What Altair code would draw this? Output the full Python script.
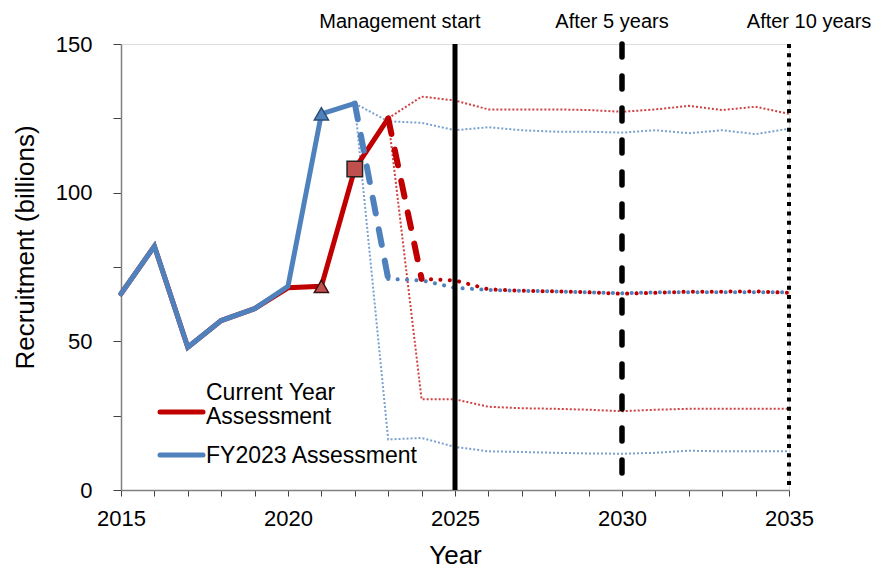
import altair as alt
import pandas as pd

# ---------------- data ----------------
blue_solid_years = [2015, 2016, 2017, 2018, 2019, 2020, 2021, 2022]
blue_solid_vals = [66, 82, 48, 57, 61, 68.5, 126.5, 130]

red_solid_years = [2015, 2016, 2017, 2018, 2019, 2020, 2021, 2022, 2023]
red_solid_vals = [66, 82, 48, 57, 61, 68, 68.5, 108, 125]

blue_dash_years = [2022, 2023]
blue_dash_vals = [130, 71]
red_dash_years = [2023, 2024]
red_dash_vals = [125, 71]

blue_med_years = list(range(2023, 2036))
blue_med_vals = [71, 70.5, 68, 67.3, 67, 66.8, 66.5, 66.2, 66.5, 66.5, 66.5, 66.5, 66.5]
red_med_years = list(range(2024, 2036))
red_med_vals = [71, 70.5, 67.5, 67, 66.8, 66.5, 66, 66.3, 66.7, 66.7, 66.8, 66.3]

blue_band_years = list(range(2022, 2036))
blue_upper_vals = [130, 124, 123.5, 121, 122, 121, 120.5, 120.5, 120.2, 121, 120, 121, 119.7, 121.5]
blue_lower_vals = [130, 17, 17.5, 14.5, 13, 12.8, 12.5, 12.3, 12.2, 12.5, 13.2, 13, 13, 13]
red_band_years = list(range(2023, 2036))
red_upper_vals = [125, 132.3, 131, 128, 128, 128, 127.8, 127.2, 128, 129.2, 127.8, 128.9, 126.5]
red_lower_vals = [125, 30.5, 30.5, 28, 27.5, 27.3, 27, 26.5, 27, 27.3, 27.3, 27.3, 27.3]

blue_marker_years = [2021]
blue_marker_vals = [126.5]
red_tri_years = [2021]
red_tri_vals = [68.5]
red_sq_years = [2022]
red_sq_vals = [108]

vline_years = [2025, 2030, 2035]
top_labels = ["Management start", "After 5 years", "After 10 years"]
top_label_x = [2023.35, 2029.7, 2035.6]

legend_labels = ["Current Year", "Assessment", "FY2023 Assessment"]

RED = "#C00000"
BLUE = "#4F81BD"
FONT = "Liberation Sans"

W, H = 668, 446


def df(years, vals, key=""):
    return pd.DataFrame({"year": years, "value": vals, "k": key})


x_axis = alt.Axis(
    values=list(range(2015, 2036)),
    labelExpr="datum.value % 5 == 0 ? datum.label : ''",
    format="d",
    grid=False,
    tickSize=6,
    tickColor="#404040",
    domainColor="#808080",
    domainWidth=1.5,
    labelFontSize=22,
    labelFont=FONT,
    labelColor="#000000",
    labelPadding=12,
    title="Year",
    titleFont=FONT,
    titleFontSize=26,
    titleFontWeight="normal",
    titleColor="#000000",
    titleY=65,
    titleBaseline="middle",
    labelFlush=False,
    labelOverlap=False,
)
x_scale = alt.Scale(domain=[2015, 2035], nice=False, zero=False)
x_enc = alt.X("year:Q", scale=x_scale, axis=x_axis)

y_enc = alt.Y(
    "value:Q",
    scale=alt.Scale(domain=[0, 150], nice=False),
    axis=alt.Axis(
        values=[0, 25, 50, 75, 100, 125, 150],
        labelExpr="datum.value % 50 == 0 ? datum.label : ''",
        grid=False,
        tickSize=8,
        tickColor="#404040",
        domainColor="#808080",
        domainWidth=1.5,
        labelFontSize=22,
        labelFont=FONT,
        labelColor="#000000",
        labelPadding=21,
        title="Recruitment (billions)",
        titleFont=FONT,
        titleFontSize=26,
        titleFontWeight="normal",
        titleColor="#000000",
        titleAngle=-90,
        titleX=-96,
        titleY=203,
        titleAlign="center",
        titleBaseline="middle",
        labelOverlap=False,
    ),
)


def line(d, color, width, dash=None, cap="butt", opacity=1.0):
    kw = dict(color=color, strokeWidth=width, strokeCap=cap, opacity=opacity, clip=False)
    if dash is not None:
        kw["strokeDash"] = dash
    return alt.Chart(d).mark_line(**kw).encode(x=x_enc, y=y_enc, detail="k:N")


bands = pd.concat([
    df(blue_band_years, blue_upper_vals, "bu"),
    df(blue_band_years, blue_lower_vals, "bl"),
])
rbands = pd.concat([
    df(red_band_years, red_upper_vals, "ru"),
    df(red_band_years, red_lower_vals, "rl"),
])

layers = [
    line(rbands, RED, 2, [2, 2], opacity=0.75),
    line(bands, BLUE, 2, [2, 2], opacity=0.75),
    line(df(red_solid_years, red_solid_vals), RED, 5, cap="round"),
    line(df(blue_solid_years, blue_solid_vals), BLUE, 5, cap="round"),
    line(df(red_dash_years, red_dash_vals), RED, 6, [16, 16], cap="round"),
    line(df(blue_dash_years, blue_dash_vals), BLUE, 6, [16, 16], cap="round"),
    line(df(blue_med_years, blue_med_vals), BLUE, 4, [0.1, 9.3], cap="round"),
    line(df(red_med_years, red_med_vals), RED, 4, [0.1, 9.3], cap="round"),
]

# vertical reference lines
vl = pd.DataFrame({"year": vline_years})
layers += [
    alt.Chart(vl.iloc[[0]]).mark_rule(color="black", strokeWidth=5).encode(x=x_enc),
    alt.Chart(vl.iloc[[1]]).mark_rule(color="black", strokeWidth=5.5, strokeDash=[13, 19], strokeCap="round").encode(x=x_enc),
    alt.Chart(vl.iloc[[2]]).mark_rule(color="black", strokeWidth=4, strokeDash=[4, 5.3]).encode(x=x_enc),
]

# markers
layers += [
    alt.Chart(df(blue_marker_years, blue_marker_vals)).mark_point(
        shape="triangle-up", size=200, filled=True, fill=BLUE, stroke="#2C4D75", strokeWidth=1.5, opacity=1
    ).encode(x=x_enc, y=y_enc),
    alt.Chart(df(red_tri_years, red_tri_vals)).mark_point(
        shape="triangle-up", size=200, filled=True, fill="#C0504D", stroke="#3A1010", strokeWidth=1.5, opacity=1
    ).encode(x=x_enc, y=y_enc),
    alt.Chart(df(red_sq_years, red_sq_vals)).mark_point(
        shape="square", size=240, filled=True, fill="#C0504D", stroke="#222222", strokeWidth=1.5, opacity=1
    ).encode(x=x_enc, y=y_enc),
]

# top labels
tl = pd.DataFrame({"year": top_label_x, "label": top_labels})
layers.append(
    alt.Chart(tl).mark_text(fontSize=20, font=FONT, color="black", baseline="middle", align="center").encode(
        x=x_enc, y=alt.value(-22), text="label:N"
    )
)

# legend (manual)
leg_lines = pd.DataFrame({"c": ["red", "blue"]})
layers += [
    alt.Chart(leg_lines.iloc[[0]]).mark_rule(color=RED, strokeWidth=5, strokeCap="round").encode(
        x=alt.value(39), x2=alt.value(82), y=alt.value(368)
    ),
    alt.Chart(leg_lines.iloc[[1]]).mark_rule(color=BLUE, strokeWidth=5, strokeCap="round").encode(
        x=alt.value(39), x2=alt.value(82), y=alt.value(411)
    ),
]
leg_text = pd.DataFrame({"label": legend_labels, "yy": [349, 373, 412]})
layers.append(
    alt.Chart(leg_text).mark_text(fontSize=23, font=FONT, color="black", align="left", baseline="middle").encode(
        x=alt.value(85), y=alt.Y("yy:Q", scale=None), text="label:N"
    )
)

chart = alt.layer(*layers).properties(
    width=W,
    height=H,
    autosize=alt.AutoSizeParams(type="none"),
    padding={"left": 113, "top": 36, "right": 90, "bottom": 79},
).configure_view(stroke=None).configure(background="white")

chart.save("out.html", embed_options={"renderer": "svg", "actions": False})
